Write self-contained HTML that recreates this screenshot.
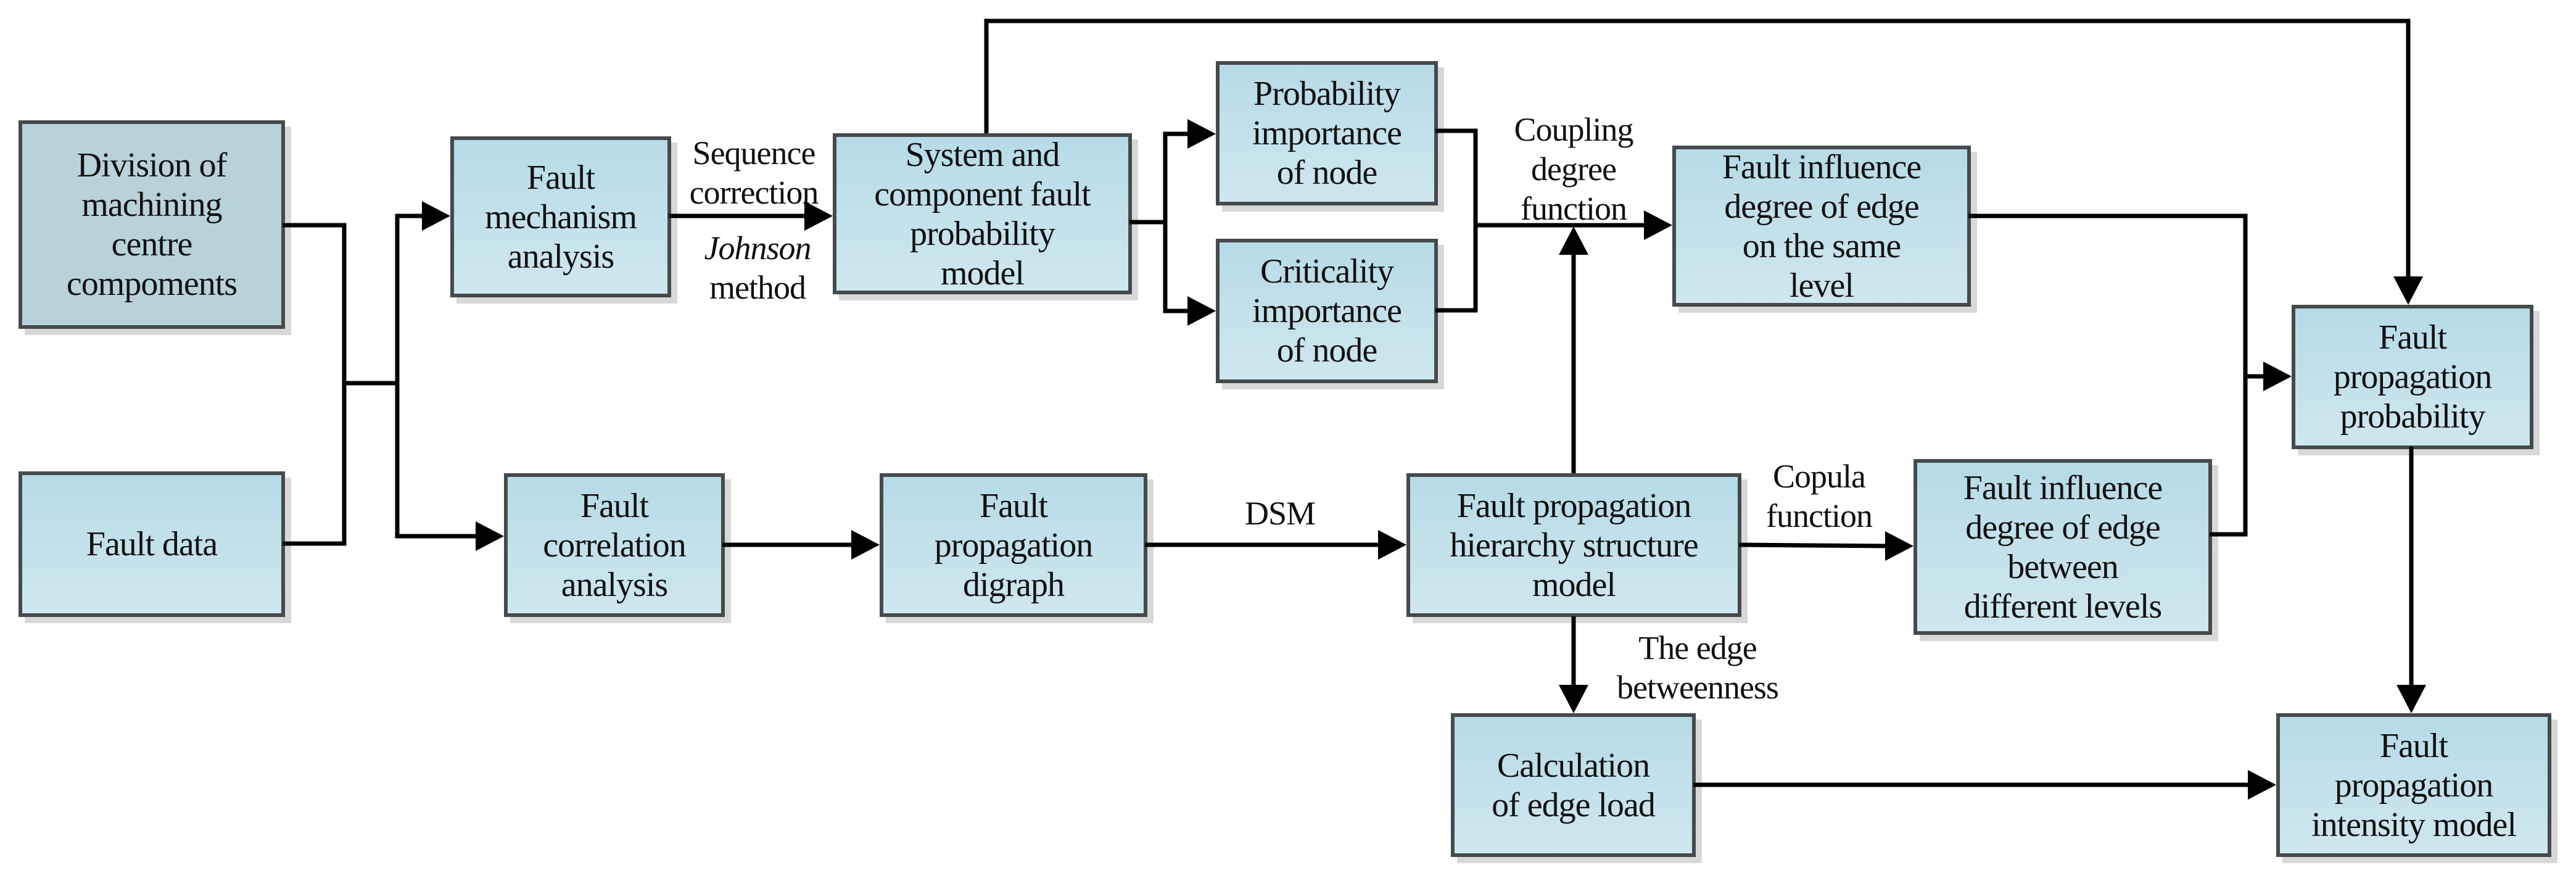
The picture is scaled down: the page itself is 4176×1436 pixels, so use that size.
<!DOCTYPE html>
<html><head><meta charset="utf-8"><style>
html,body{margin:0;padding:0;background:#fff;}
#c{position:relative;width:4176px;height:1436px;overflow:hidden;font-family:"Liberation Serif",serif;}
.b{position:absolute;box-sizing:border-box;border:6px solid #454a4c;background:linear-gradient(#b6dbe6,#cfe7ef);display:flex;align-items:center;justify-content:center;text-align:center;font-size:56px;line-height:64px;color:#111;box-shadow:10px 10px 0 #d8d8d8;letter-spacing:-1px;}
.g{background:#b9d2da;}
.t{position:absolute;font-size:54px;line-height:64px;text-align:center;color:#111;white-space:nowrap;transform:translateX(-50%);letter-spacing:-1px;}
svg{position:absolute;left:0;top:0;z-index:5;}
</style></head><body><div id="c">
<svg width="4176" height="1436">
<g stroke="#000" stroke-width="7" fill="none">
<polyline points="458,365 558,365 558,881 458,881"/>
<line x1="558" y1="621" x2="644" y2="621"/>
<polyline points="700,350 644,350 644,869 780,869"/>
<line x1="1084" y1="350" x2="1310" y2="350"/>
<polyline points="1599,216 1599,34 3904,34 3904,454"/>
<line x1="1831" y1="360" x2="1889" y2="360"/>
<polyline points="1935,217 1889,217 1889,504 1935,504"/>
<polyline points="2327,212 2392,212 2392,503 2327,503"/>
<line x1="2392" y1="365" x2="2671" y2="365"/>
<line x1="2551" y1="767" x2="2551" y2="410"/>
<line x1="1856" y1="883" x2="2240" y2="883"/>
<line x1="1171" y1="883" x2="1386" y2="883"/>
<line x1="2819" y1="883" x2="3062" y2="885"/>
<line x1="2551" y1="999" x2="2551" y2="1116"/>
<polyline points="3191,350 3640,350 3640,866 3582,866"/>
<line x1="3640" y1="610" x2="3675" y2="610"/>
<line x1="3909" y1="724" x2="3909" y2="1116"/>
<line x1="2745" y1="1272" x2="3650" y2="1272"/>
</g>
<g fill="#000">
<path d="M730,350l-46,-24v48z"/>
<path d="M817,869l-46,-24v48z"/>
<path d="M1350,350l-46,-24v48z"/>
<path d="M3904,494l-24,-46h48z"/>
<path d="M1971,217l-46,-24v48z"/>
<path d="M1971,504l-46,-24v48z"/>
<path d="M2711,365l-46,-24v48z"/>
<path d="M2551,367l-24,46h48z"/>
<path d="M2280,883l-46,-24v48z"/>
<path d="M1426,883l-46,-24v48z"/>
<path d="M3102,885l-46,-24v48z"/>
<path d="M2551,1156l-24,-46h48z"/>
<path d="M3715,610l-46,-24v48z"/>
<path d="M3909,1156l-24,-46h48z"/>
<path d="M3690,1272l-46,-24v48z"/>
</g>
</svg>
<div class="b g" style="left:30px;top:195px;width:432px;height:338px">Division of<br>machining<br>centre<br>compoments</div>
<div class="b" style="left:30px;top:764px;width:432px;height:236px">Fault data</div>
<div class="b" style="left:730px;top:221px;width:358px;height:261px">Fault<br>mechanism<br>analysis</div>
<div class="b" style="left:1350px;top:216px;width:485px;height:261px">System and<br>component fault<br>probability<br>model</div>
<div class="b" style="left:817px;top:767px;width:358px;height:233px">Fault<br>correlation<br>analysis</div>
<div class="b" style="left:1426px;top:767px;width:434px;height:233px">Fault<br>propagation<br>digraph</div>
<div class="b" style="left:1971px;top:99px;width:360px;height:234px">Probability<br>importance<br>of node</div>
<div class="b" style="left:1971px;top:387px;width:360px;height:234px">Criticality<br>importance<br>of node</div>
<div class="b" style="left:2711px;top:236px;width:484px;height:261px">Fault influence<br>degree of edge<br>on the same<br>level</div>
<div class="b" style="left:3715px;top:494px;width:392px;height:234px">Fault<br>propagation<br>probability</div>
<div class="b" style="left:2280px;top:767px;width:543px;height:233px">Fault propagation<br>hierarchy structure<br>model</div>
<div class="b" style="left:3102px;top:744px;width:484px;height:285px">Fault influence<br>degree of edge<br>between<br>different levels</div>
<div class="b" style="left:2352px;top:1156px;width:397px;height:233px">Calculation<br>of edge load</div>
<div class="b" style="left:3690px;top:1156px;width:446px;height:233px">Fault<br>propagation<br>intensity model</div>
<div class="t" style="left:1222px;top:216px">Sequence<br>correction</div>
<div class="t" style="left:1228px;top:370px"><i>Johnson</i><br>method</div>
<div class="t" style="left:2551px;top:178px">Coupling<br>degree<br>function</div>
<div class="t" style="left:2075px;top:800px">DSM</div>
<div class="t" style="left:2949px;top:740px">Copula<br>function</div>
<div class="t" style="left:2752px;top:1018px">The edge<br>betweenness</div>
</div></body></html>
